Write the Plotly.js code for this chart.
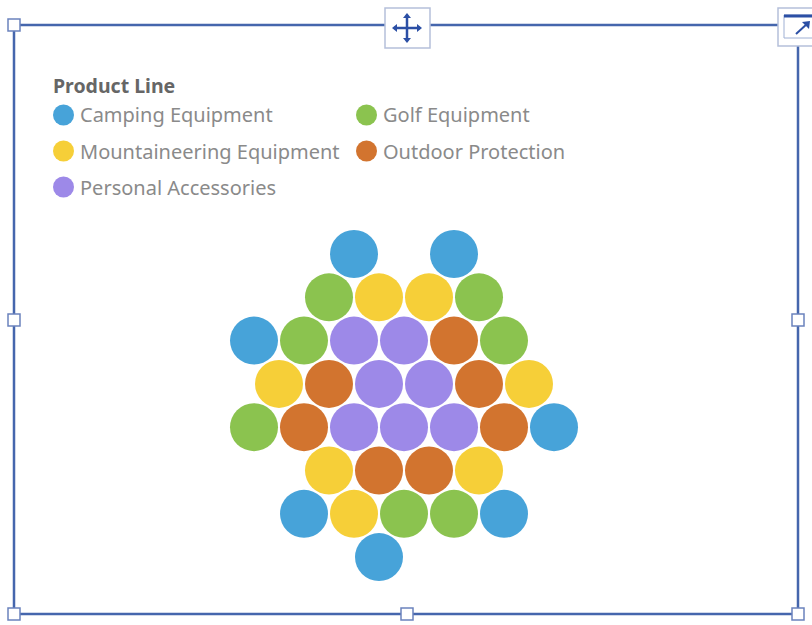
<!DOCTYPE html>
<html>
<head>
<meta charset="utf-8">
<script src="https://cdn.plot.ly/plotly-3.0.1.min.js"></script>
<style>
  html, body { margin: 0; padding: 0; background: #fff; }
  #chart { width: 812px; height: 625px; }
</style>
</head>
<body>
<div id="chart"></div>
<script>
// Categorías y colores
const productLines = ['Camping Equipment', 'Golf Equipment', 'Mountaineering Equipment', 'Outdoor Protection', 'Personal Accessories'];
const lineColors = ['#47a3d9', '#8bc34f', '#f6cf38', '#d2742f', '#9d89e8'];

// Celdas del panal: fila, columna (medias posiciones) y línea de producto (índice)
const cellRow = [0, 0, 1, 1, 1, 1, 2, 2, 2, 2, 2, 2, 3, 3, 3, 3, 3, 3, 4, 4, 4, 4, 4, 4, 4, 5, 5, 5, 5, 6, 6, 6, 6, 6, 7];
const cellCol = [2, 4, 1.5, 2.5, 3.5, 4.5, 0, 1, 2, 3, 4, 5, 0.5, 1.5, 2.5, 3.5, 4.5, 5.5, 0, 1, 2, 3, 4, 5, 6, 1.5, 2.5, 3.5, 4.5, 1, 2, 3, 4, 5, 2.5];
const cellLine = [0, 0, 1, 2, 2, 1, 0, 1, 4, 4, 3, 1, 2, 3, 4, 4, 3, 2, 1, 3, 4, 4, 4, 3, 0, 2, 3, 3, 2, 0, 2, 1, 1, 0, 0];

const W = 812, H = 625;
const px = x => x / W;
const py = y => 1 - y / H;

// Trazas: una por línea de producto
const traces = productLines.map((name, i) => {
    const idx = cellLine.map((l, k) => l === i ? k : -1).filter(k => k >= 0);
    return {
        type: 'scatter',
        mode: 'markers',
        name: name,
        x: idx.map(k => cellCol[k]),
        y: idx.map(k => cellRow[k]),
        marker: { size: 48, color: lineColors[i], line: { width: 0 } },
        hovertemplate: name + '<extra></extra>',
        showlegend: false
    };
});

// Leyenda manual en dos columnas
const legendX = [53, 356];
const legendY = [115, 151, 187];
const annotations = [{
    xref: 'paper', yref: 'paper', x: px(51), y: py(85),
    xanchor: 'left', yanchor: 'middle', showarrow: false,
    text: '<b>Product Line</b>',
    font: { family: 'Noto Sans, sans-serif', size: 19.5, color: '#666' }
}];
const shapes = [];
productLines.forEach((name, i) => {
    const cx = legendX[i % 2], cy = legendY[Math.floor(i / 2)];
    shapes.push({
        type: 'circle', xref: 'paper', yref: 'paper',
        x0: px(cx), x1: px(cx + 21), y0: py(cy - 10.5), y1: py(cy + 10.5),
        fillcolor: lineColors[i], line: { width: 0 }
    });
    annotations.push({
        xref: 'paper', yref: 'paper', x: px(cx + 25), y: py(cy),
        xanchor: 'left', yanchor: 'middle', showarrow: false,
        text: name,
        font: { family: 'Noto Sans, sans-serif', size: 20, color: '#8a8a8a' }
    });
});

// Marco de edición con tiradores
const frameColor = '#4566ad';
shapes.push({
    type: 'rect', xref: 'paper', yref: 'paper',
    x0: px(14), x1: px(798), y0: py(614), y1: py(25),
    line: { color: frameColor, width: 2.5 }
});
[[14, 25], [14, 320], [14, 614], [407, 614], [798, 614], [798, 320]].forEach(([hx, hy]) => {
    shapes.push({
        type: 'rect', xref: 'paper', yref: 'paper',
        x0: px(hx - 6), x1: px(hx + 6), y0: py(hy + 6), y1: py(hy - 6),
        fillcolor: '#fff', line: { color: '#6b82bd', width: 1.5 }
    });
});
// Icono de mover
shapes.push({
    type: 'rect', xref: 'paper', yref: 'paper',
    x0: px(385), x1: px(430), y0: py(48), y1: py(8),
    fillcolor: '#fff', line: { color: '#b5c0da', width: 1.5 }
});
const moveColor = '#2b4fa5';
shapes.push({ type: 'line', xref: 'paper', yref: 'paper', x0: px(394), x1: px(420), y0: py(28), y1: py(28), line: { color: moveColor, width: 2.5 } });
shapes.push({ type: 'line', xref: 'paper', yref: 'paper', x0: px(407), x1: px(407), y0: py(16), y1: py(40), line: { color: moveColor, width: 2.5 } });
[
    [[392, 28], [397, 24], [397, 32]],
    [[422, 28], [417, 24], [417, 32]],
    [[407, 13], [403, 18], [411, 18]],
    [[407, 43], [403, 38], [411, 38]]
].forEach(tri => {
    const path = 'M' + tri.map(p => px(p[0]) + ',' + py(p[1])).join(' L') + ' Z';
    shapes.push({ type: 'path', xref: 'paper', yref: 'paper', path: path, fillcolor: moveColor, line: { width: 0 } });
});
// Icono de expandir
shapes.push({
    type: 'rect', xref: 'paper', yref: 'paper',
    x0: px(778), x1: px(813), y0: py(46), y1: py(8),
    fillcolor: '#fff', line: { color: '#b5c0da', width: 1.5 }
});
shapes.push({
    type: 'rect', xref: 'paper', yref: 'paper',
    x0: px(784), x1: px(813), y0: py(38), y1: py(15),
    fillcolor: '#fff', line: { color: '#9fb0d4', width: 1 }
});
shapes.push({ type: 'line', xref: 'paper', yref: 'paper', x0: px(784), x1: px(813), y0: py(16), y1: py(16), line: { color: '#2b4fa5', width: 3 } });
shapes.push({ type: 'line', xref: 'paper', yref: 'paper', x0: px(796), x1: px(808), y0: py(34), y1: py(23), line: { color: '#2b4fa5', width: 2 } });
shapes.push({
    type: 'path', xref: 'paper', yref: 'paper',
    path: 'M' + px(810) + ',' + py(21) + ' L' + px(802) + ',' + py(22) + ' L' + px(809) + ',' + py(29) + ' Z',
    fillcolor: '#2b4fa5', line: { width: 0 }
});

const layout = {
    width: W,
    height: H,
    margin: { t: 0, r: 0, b: 0, l: 0 },
    paper_bgcolor: '#fff',
    plot_bgcolor: 'rgba(0,0,0,0)',
    showlegend: false,
    xaxis: { range: [-254 / 50, (W - 254) / 50], visible: false, fixedrange: true },
    yaxis: { range: [(H - 254) / 43.3, -254 / 43.3], visible: false, fixedrange: true },
    shapes: shapes,
    annotations: annotations
};

Plotly.newPlot('chart', traces, layout, { displayModeBar: false, staticPlot: true });
</script>
</body>
</html>
